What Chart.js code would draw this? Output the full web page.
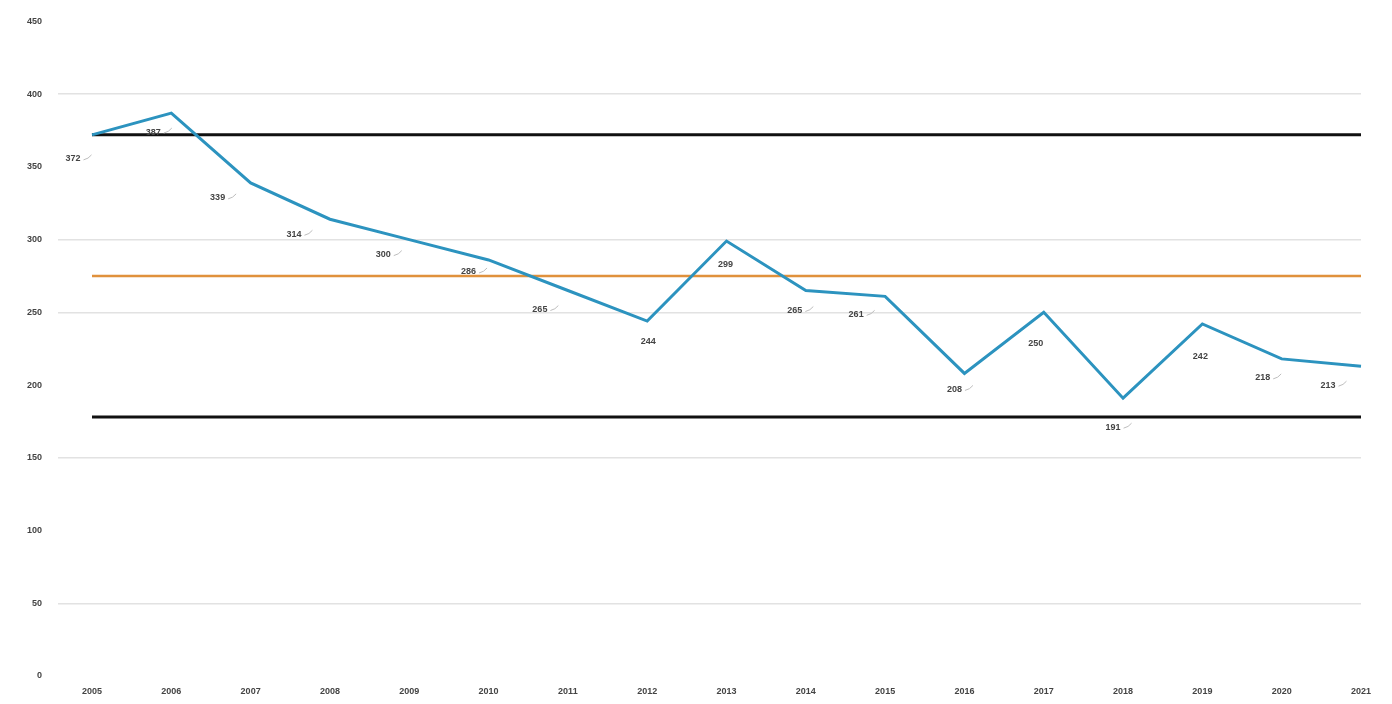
<!DOCTYPE html>
<html lang="en">
<head>
    <meta charset="UTF-8">
    <title>Chart</title>
    <script src="https://cdn.jsdelivr.net/npm/chart.js"></script>
    <style>
        body { margin: 0; background: #fff; }
        canvas { display: block; }
    </style>
</head>
<body>
    <canvas id="myChart" width="1392" height="704"></canvas>
<script>
    // dados
    const anos = ['2005', '2006', '2007', '2008', '2009', '2010', '2011', '2012', '2013',
                  '2014', '2015', '2016', '2017', '2018', '2019', '2020', '2021'];
    const valores = [372, 387, 339, 314, 300, 286, 265, 244, 299, 265, 261, 208, 250, 191, 242, 218, 213];
    const limiteSuperior = 372;
    const media = 275;
    const limiteInferior = 178;
    const ticksY = [0, 50, 100, 150, 200, 250, 300, 350, 400, 450];
    const linhasGrade = [50, 150, 250, 300, 400];

    // deslocamento de cada rótulo em relação ao ponto
    const offsetsRotulo = [
        [-19, 24], [-18, 19], [-33, 15], [-36, 15], [-26, 15], [-20, 12], [-28, 19], [1, 20], [-1, 23],
        [-11, 20], [-29, 18], [-10, 16], [-8, 31], [-10, 29], [-2, 33], [-19, 19], [-33, 19]
    ];

    const fonte = "'Liberation Sans', Arial, sans-serif";

    // rótulos de valor com pequena linha guia
    const rotulosPlugin = {
        id: 'rotulos',
        afterDatasetsDraw(chart) {
            const ctx = chart.ctx;
            const meta = chart.getDatasetMeta(3);
            ctx.save();
            ctx.font = 'bold 9px ' + fonte;
            ctx.textAlign = 'center';
            ctx.textBaseline = 'middle';
            meta.data.forEach((pt, i) => {
                const [dx, dy] = offsetsRotulo[i];
                const x = pt.x + dx;
                const y = pt.y + dy;
                const txt = String(valores[i]);
                const w = ctx.measureText(txt).width;
                // linha guia
                if (Math.abs(dx) > 8) {
                    ctx.strokeStyle = '#bdbdbd';
                    ctx.lineWidth = 1;
                    ctx.beginPath();
                    ctx.moveTo(x + w / 2 + 3, y + 1);
                    ctx.quadraticCurveTo(x + w / 2 + 8, y, x + w / 2 + 11, y - 4);
                    ctx.stroke();
                }
                ctx.fillStyle = '#444';
                ctx.fillText(txt, x, y);
            });
            ctx.restore();
        }
    };

    const ctx = document.getElementById('myChart');

    const myChart = new Chart(ctx, {
        type: 'line',
        data: {
            labels: anos,
            datasets: [{
                label: 'Limite superior',
                data: anos.map(() => limiteSuperior),
                borderColor: '#111',
                borderWidth: 3,
                pointRadius: 0,
                order: 3
            }, {
                label: 'Média',
                data: anos.map(() => media),
                borderColor: '#e0913c',
                borderWidth: 2.5,
                pointRadius: 0,
                order: 3
            }, {
                label: 'Limite inferior',
                data: anos.map(() => limiteInferior),
                borderColor: '#111',
                borderWidth: 3,
                pointRadius: 0,
                order: 3
            }, {
                label: 'Valores',
                data: valores,
                borderColor: '#2c93bf',
                backgroundColor: '#2c93bf',
                borderWidth: 3,
                pointRadius: 0,
                tension: 0,
                order: 1
            }]
        },
        options: {
            responsive: false,
            animation: false,
            devicePixelRatio: 1,
            layout: { padding: { top: 20, right: 31, bottom: 0, left: 0 } },
            plugins: {
                legend: { display: false },
                tooltip: { enabled: false }
            },
            scales: {
                x: {
                    offset: false,
                    grid: { display: false },
                    border: { display: false },
                    ticks: {
                        color: '#444',
                        font: { family: fonte, size: 9, weight: 'bold' },
                        padding: 2,
                        maxRotation: 0
                    },
                    afterFit: s => { s.height = 28; }
                },
                y: {
                    min: 0,
                    max: 450,
                    afterBuildTicks: s => { s.ticks = ticksY.map(v => ({ value: v })); },
                    grid: {
                        color: c => linhasGrade.includes(c.tick.value) ? '#e2e2e2' : 'rgba(0,0,0,0)',
                        lineWidth: 1.5,
                        tickLength: 34
                    },
                    border: { display: false },
                    ticks: {
                        color: '#444',
                        font: { family: fonte, size: 9, weight: 'bold' },
                        padding: 16
                    },
                    afterFit: s => { s.width = 92; }
                }
            }
        },
        plugins: [rotulosPlugin]
    });
</script>
</body>
</html>
